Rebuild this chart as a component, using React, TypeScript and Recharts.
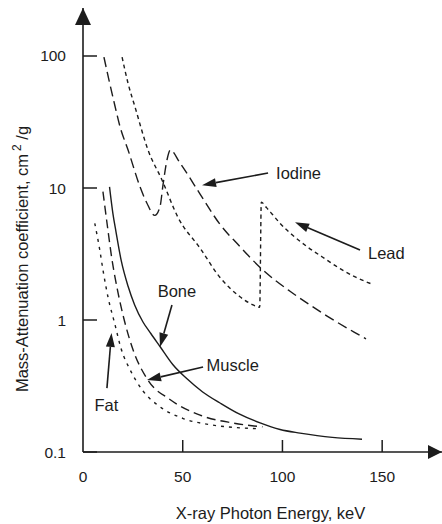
import React from 'react';
import { LineChart, Line, XAxis, YAxis, ReferenceLine, ReferenceDot, Label } from 'recharts';

// ---- data: photon energy (keV) and mass-attenuation coefficient (cm^2/g) ----
const iodineEnergy = [10.5, 13, 16, 18.6, 22.6, 28.6, 32, 36, 38.6, 40.1, 42.1, 43.8, 48.6, 58.7, 68.7, 78.7, 88.8, 103.8, 112.8, 122.4, 135.9, 141.9];
const iodineMu = [98, 66, 42, 29, 19.4, 10.2, 7.7, 6.2, 7.2, 10.5, 16.3, 19.4, 15.5, 9.0, 5.3, 3.6, 2.5, 1.65, 1.33, 1.07, 0.81, 0.72];

const leadEnergy = [19.6, 22.6, 26.1, 32.6, 39.6, 47.6, 58.7, 68.7, 78.7, 85.3, 88.6, 89.4, 92, 95, 98.8, 105, 112.3, 120, 128.9, 137, 144.9];
const leadMu = [98, 62, 41, 19.4, 11.5, 6.0, 3.5, 2.1, 1.5, 1.3, 1.25, 7.8, 7.1, 6.3, 5.4, 4.4, 3.6, 3.0, 2.45, 2.1, 1.87];

const boneEnergy = [13.3, 15.0, 16.5, 19.2, 22.6, 25.9, 30, 34, 38.6, 45, 52, 60, 68.7, 78, 88.8, 98.8, 108.8, 125, 139.9];
const boneMu = [10.2, 6.4, 4.7, 2.8, 1.8, 1.3, 0.97, 0.79, 0.63, 0.46, 0.36, 0.285, 0.235, 0.195, 0.166, 0.148, 0.139, 0.129, 0.125];

const muscleEnergy = [10, 12.5, 14.2, 17.6, 20.9, 25, 32.6, 43.6, 58.7, 75, 90];
const muscleMu = [9.4, 4.8, 3.1, 1.6, 0.97, 0.6, 0.35, 0.25, 0.19, 0.166, 0.155];

const fatEnergy = [5.9, 8.4, 10, 12.5, 15.9, 19.2, 23.6, 30.1, 38.6, 50, 65, 80, 88.8];
const fatMu = [5.4, 3.4, 2.4, 1.5, 0.94, 0.6, 0.42, 0.29, 0.22, 0.18, 0.16, 0.152, 0.15];

// annotations (arrow from tail to tip)
const annotationNames = ['Iodine', 'Lead', 'Bone', 'Muscle', 'Fat'];
const arrowTailEnergy = [92.8, 138.9, 44.6, 60.2, 12.0];
const arrowTailMu = [13.0, 3.39, 1.3, 0.44, 0.305];
const arrowTipEnergy = [59.7, 106.3, 38.6, 32.1, 14.3];
const arrowTipMu = [10.5, 5.5, 0.625, 0.351, 0.797];

// axes
const xTicks = [0, 50, 100, 150];
const xTickLabels = ['0', '50', '100', '150'];
const yTicks = [0.1, 1, 10, 100];
const yTickLabels = ['0.1', '1', '10', '100'];
const xDomain = [0, 180];
const yDomain = [0.1, 231];
const xTitle = 'X-ray Photon Energy, keV';
const yTitle = 'Mass-Attenuation coefficient, cm';
const yTitleSup = '2';
const yTitleTail = ' /g';

// ---- styles ----
const FONT = '"Liberation Sans", Arial, Helvetica, sans-serif';
const INK = '#1c1c1c';
const TICK_FONT = 15.5;
const LABEL_FONT = 16.5;
const Y_TICK_GAP = 17;
const X_TICK_GAP = 19;

const labelStyle = [
  { dx: 8, dy: 0, anchor: 'start' },
  { dx: 8, dy: 3, anchor: 'start' },
  { dx: 5, dy: -14, anchor: 'middle' },
  { dx: 3.5, dy: -1.5, anchor: 'start' },
  { dx: -0.5, dy: 17, anchor: 'middle' },
];

const toPoints = (e: number[], m: number[]) => e.map((x, i) => ({ x, y: m[i] }));
const iodineData = toPoints(iodineEnergy, iodineMu);
const leadData = toPoints(leadEnergy, leadMu);
const boneData = toPoints(boneEnergy, boneMu);
const muscleData = toPoints(muscleEnergy, muscleMu);
const fatData = toPoints(fatEnergy, fatMu);

function YTick(props: any) {
  const { x, y, payload } = props;
  const i = yTicks.indexOf(payload.value);
  return (
    <g>
      <line x1={x + Y_TICK_GAP} x2={x + Y_TICK_GAP + 14} y1={y} y2={y} stroke={INK} strokeWidth={1.5} />
      <text x={x} y={y} dy="0.355em" textAnchor="end" fontFamily={FONT} fontSize={TICK_FONT} fill={INK}>
        {i >= 0 ? yTickLabels[i] : ''}
      </text>
    </g>
  );
}

function XTick(props: any) {
  const { x, y, payload } = props;
  const i = xTicks.indexOf(payload.value);
  return (
    <g>
      {payload.value !== 0 && (
        <line x1={x} x2={x} y1={y - X_TICK_GAP} y2={y - X_TICK_GAP - 12} stroke={INK} strokeWidth={1.5} />
      )}
      <text x={x} y={y} dy="0.71em" textAnchor="middle" fontFamily={FONT} fontSize={TICK_FONT} fill={INK}>
        {i >= 0 ? xTickLabels[i] : ''}
      </text>
    </g>
  );
}

function XTitle(props: any) {
  const vb = props.viewBox;
  return (
    <text x={vb.x + vb.width / 2 + 8} y={vb.y + 67} textAnchor="middle" fontFamily={FONT} fontSize={LABEL_FONT} fill={INK}>
      {xTitle}
    </text>
  );
}

function YTitle(props: any) {
  const vb = props.viewBox;
  const cx = vb.x + 28;
  const cy = vb.y + vb.height / 2 + 29;
  return (
    <text x={cx} y={cy} transform={`rotate(-90, ${cx}, ${cy})`} textAnchor="middle" fontFamily={FONT} fontSize={LABEL_FONT} fill={INK}>
      {yTitle}
      <tspan dx={3} dy={-7} fontSize={12}>{yTitleSup}</tspan>
      <tspan dy={7}>{yTitleTail}</tspan>
    </text>
  );
}

const makeArrow = (i: number) => (p: any) => {
  const { x1, y1, x2, y2 } = p;
  const ang = Math.atan2(y2 - y1, x2 - x1);
  const L = 14;
  const W = 4.5;
  const bx = x2 - L * Math.cos(ang);
  const by = y2 - L * Math.sin(ang);
  const nx = -Math.sin(ang);
  const ny = Math.cos(ang);
  const pts = `${x2},${y2} ${bx + nx * W},${by + ny * W} ${bx - nx * W},${by - ny * W}`;
  const s = labelStyle[i];
  return (
    <g>
      <line x1={x1} y1={y1} x2={bx} y2={by} stroke={INK} strokeWidth={1.6} />
      <polygon points={pts} fill={INK} />
      <text x={x1 + s.dx} y={y1 + s.dy} dy="0.355em" textAnchor={s.anchor as any} fontFamily={FONT} fontSize={LABEL_FONT} fill={INK}>
        {annotationNames[i]}
      </text>
    </g>
  );
};

const xArrowHead = (p: any) => {
  const { cx, cy } = p;
  return <polygon points={`${cx},${cy} ${cx - 14},${cy - 7} ${cx - 14},${cy + 7}`} fill={INK} />;
};
const yArrowHead = (p: any) => {
  const { cx, cy } = p;
  return <polygon points={`${cx},${cy} ${cx - 8},${cy + 17} ${cx + 8},${cy + 17}`} fill={INK} />;
};

export default function App() {
  const lineCommon = {
    dataKey: 'y',
    stroke: INK,
    strokeWidth: 1.4,
    dot: false,
    activeDot: false,
    isAnimationActive: false,
    type: 'monotone' as const,
  };
  return (
    <div style={{ position: 'absolute', left: 0, top: 0, background: '#fff' }}>
      <LineChart width={442} height={524} margin={{ top: 8, right: 0, bottom: 0, left: 0 }}>
        <XAxis
          type="number"
          dataKey="x"
          domain={xDomain}
          ticks={xTicks}
          interval={0}
          allowDataOverflow
          height={72}
          axisLine={{ stroke: INK, strokeWidth: 1.6 }}
          tickLine={false}
          tickSize={0}
          tickMargin={X_TICK_GAP}
          tick={<XTick />}
        >
          <Label content={<XTitle />} />
        </XAxis>
        <YAxis
          type="number"
          scale="log"
          domain={yDomain}
          ticks={yTicks}
          interval={0}
          allowDataOverflow
          width={83}
          axisLine={{ stroke: INK, strokeWidth: 1.6 }}
          tickLine={false}
          tickSize={0}
          tickMargin={Y_TICK_GAP}
          tick={<YTick />}
        >
          <Label content={<YTitle />} />
        </YAxis>
        <Line {...lineCommon} data={iodineData} strokeDasharray="10 5" />
        <Line {...lineCommon} data={leadData} strokeDasharray="4 3.5" />
        <Line {...lineCommon} data={boneData} />
        <Line {...lineCommon} data={muscleData} strokeDasharray="9 5" />
        <Line {...lineCommon} data={fatData} strokeDasharray="3 5" />
        {annotationNames.map((n, i) => (
          <ReferenceLine
            key={n}
            ifOverflow="visible"
            segment={[
              { x: arrowTailEnergy[i], y: arrowTailMu[i] },
              { x: arrowTipEnergy[i], y: arrowTipMu[i] },
            ]}
            shape={makeArrow(i)}
          />
        ))}
        <ReferenceDot x={xDomain[1]} y={yDomain[0]} ifOverflow="visible" shape={xArrowHead} />
        <ReferenceDot x={xDomain[0]} y={yDomain[1]} ifOverflow="visible" shape={yArrowHead} />
      </LineChart>
    </div>
  );
}
